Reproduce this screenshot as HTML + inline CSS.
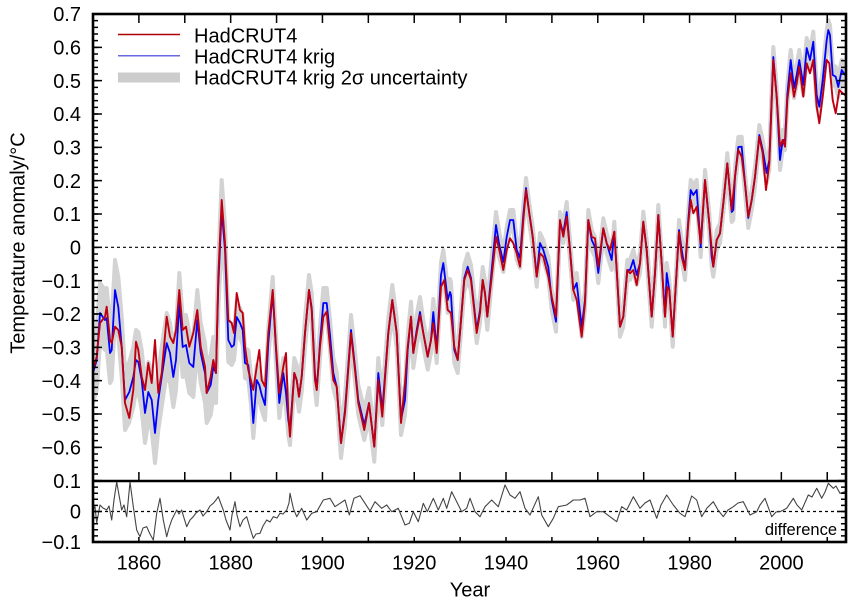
<!DOCTYPE html>
<html><head><meta charset="utf-8"><style>
html,body{margin:0;padding:0;background:#fff;}
svg{display:block;font-family:"Liberation Sans",Arial,sans-serif;}
</style></head><body>
<svg width="855" height="601" viewBox="0 0 855 601" xmlns="http://www.w3.org/2000/svg">
<rect width="855" height="601" fill="#fff"/>
<defs><clipPath id="cp"><rect x="93" y="14" width="753" height="467"/></clipPath></defs>
<g clip-path="url(#cp)" fill="none" stroke-linejoin="round" stroke-linecap="round">
<!-- uncertainty band -->
<polygon fill="#d3d3d3" stroke="#d3d3d3" stroke-width="4" points="91,343 93,343 96.7,330 100,283 105,290 106.7,288 110,323 111.7,320 115,260 118.3,277 121.7,316.7 125,370 129.3,362 133.3,347 136,330 138.3,332 141.7,350 145,383 148.3,362 151.7,370 155,403 158.3,370 161.7,347 166.7,313 170,323 173.3,347 176,330 179.3,273 182.7,317 186,315 189.3,333 193.3,337 197.3,290 200.7,323 205,343 206.7,363 210.7,355 213.3,337 216,343 218.3,260 221.7,180 225,225 228.3,318 231.7,329 234,330 236.7,302 240,308 242.7,315 245,348 248.3,350 251,375 253.3,408 256.7,365 259.3,370 261.7,380 265,390 268.3,328 272.7,277 276,335 279.3,388 283.3,358 286,378 288.3,405 290,415 294.3,358 296.7,365 299,381.7 301.7,361.7 305,318 309,275 311.7,293 315,360 316.7,375 320,328 323.3,288 326.7,288 330,320 333.3,358 336.7,371.7 341,428 345,395 351,315 355,352 358.3,385 364.3,410 369,388 374.3,431.7 378.3,358 382.3,395 388.3,318 392.3,285 396.7,318 401,405 405,385 407.7,335 411,301.7 413.3,338 416.7,315 420,297 423.3,320 427.7,343.7 431,327 433.3,299 436.7,337 441,262 443.3,250 447.7,287 450,279 451,282 454.3,337 457.7,347 461,307 464.3,265 467.7,253.7 471,265 476.7,317 480,297 482.7,267 485,280.3 487.3,303.7 491.7,257 496,212 499.3,232 503.3,252 506.7,227 510,210 513.3,210 516.7,240 520,248 523.3,205 526,178 529.3,203.3 532.7,226.7 536.7,266.7 540,233 543.3,240 548.3,257 551.7,290 556,311.7 560,212 563.3,223 566.7,202 570,240 573.3,280 576.7,273 581.7,317 585,290 588.3,210 591.7,230 595,237 598.3,263 603.3,218.3 606.7,233.3 611.7,250 614.3,221.7 616.7,260 620,316.7 623.3,306.7 627.3,260 630,260 633.3,250 636.7,265 640,253.3 643.3,211.7 646.7,240 651.7,306.7 655,263.3 658.3,205 661.7,253.3 665,306.7 666.7,263 669.3,280 672.7,326.7 676.7,260 679,220 681.7,240 685,260 688.3,210 690.7,180 693.3,185 696.7,180 700.7,237 705,170 709.3,213.3 711.7,247 713.3,256.7 716.7,230 720,223.3 723.3,193.3 727.3,153.3 731.7,202 733.3,200 735,166.7 738.3,137 741.7,136.7 745,173.3 748.3,208 751.7,190 755,166.7 759.3,125 762.7,140 766.7,163 769.3,150 773.3,47 776.7,86.7 780,150 782.7,130 785,130 787.3,85 790.7,50 794,78 796.7,65 799.3,50 803.3,75 806.7,38 810,50 813.3,31.7 816.7,85 819.3,96.7 822.7,70 826.7,30 828.3,20 830,25 832.7,65 835.7,66.7 838.3,77 841.7,60 845,65 847,65 847,85 845,85 841.7,80 838.3,97 835.7,86.7 832.7,85 830,45 828.3,40 826.7,50 822.7,90 819.3,116.7 816.7,105 813.3,51.7 810,70 806.7,58 803.3,95 799.3,70 796.7,85 794,98 790.7,70 787.3,105 785,150 782.7,150 780,170 776.7,106.7 773.3,67 769.3,170 766.7,183 762.7,160 759.3,145 755,186.7 751.7,210 748.3,228 745,193.3 741.7,156.7 738.3,157 735,186.7 733.3,220 731.7,222 727.3,173.3 723.3,213.3 720,243.3 716.7,250 713.3,276.7 711.7,267 709.3,233.3 705,190 700.7,257 696.7,200 693.3,205 690.7,200 688.3,230 685,280 681.7,260 679,240 676.7,280 672.7,346.7 669.3,300 666.7,283 665,326.7 661.7,273.3 658.3,225 655,283.3 651.7,326.7 646.7,260 643.3,231.7 640,273.3 636.7,285 633.3,270 630,280 627.3,280 623.3,326.7 620,336.7 616.7,280 614.3,241.7 611.7,270 606.7,253.3 603.3,238.3 598.3,283 595,257 591.7,250 588.3,230 585,310 581.7,337 576.7,293 573.3,300 570,260 566.7,222 563.3,243 560,232 556,331.7 551.7,310 548.3,277 543.3,260 540,253 536.7,286.7 532.7,246.7 529.3,223.3 526,198 523.3,225 520,268 516.7,260 513.3,230 510,230 506.7,247 503.3,272 499.3,258 496,238 491.7,283 487.3,329.7 485,306.3 482.7,293 480,323 476.7,343 471,291 467.7,279.7 464.3,291 461,333 457.7,373 454.3,363 451,308 450,305 447.7,313 443.3,276 441,288 436.7,363 433.3,325 431,353 427.7,369.7 423.3,346 420,327 416.7,345 413.3,368 411,331.7 407.7,365 405,415 401,435 396.7,348 392.3,315 388.3,348 382.3,425 378.3,388 374.3,461.7 369,418 364.3,440 358.3,415 355,382 351,345 345,425 341,458 336.7,401.7 333.3,388 330,350 326.7,318 323.3,318 320,358 316.7,405 315,390 311.7,323 309,305 305,348 301.7,391.7 299,411.7 296.7,395 294.3,388 290,445 288.3,435 286,408 283.3,388 279.3,418 276,365 272.7,307 268.3,358 265,420 261.7,410 259.3,400 256.7,395 253.3,438 251,405 248.3,380 245,378 242.7,345 240,338 236.7,332 234,360 231.7,365 228.3,362 225,275 221.7,240 218.3,310 216,403 213.3,397 210.7,415 206.7,423 205,403 200.7,383 197.3,350 193.3,397 189.3,393 186,375 182.7,377 179.3,333 176,390 173.3,407 170,383 166.7,373 161.7,407 158.3,430 155,463 151.7,430 148.3,422 145,443 141.7,410 138.3,392 136,390 133.3,407 129.3,422 125,430 121.7,376.7 118.3,337 115,320 111.7,380 110,383 106.7,348 105,350 100,343 96.7,390 93,403 91,403"/>
<!-- zero line -->
<line x1="93" y1="247.3" x2="846" y2="247.3" stroke="#000" stroke-width="1.2" stroke-dasharray="3 3" stroke-linecap="butt"/>
<!-- krig (blue) -->
<polyline stroke="#0000ff" stroke-width="1.8" points="93,373 96.7,360 100,313 105,320 106.7,318 110,353 111.7,350 115,290 118.3,307 121.7,346.7 125,400 129.3,392 133.3,377 136,360 138.3,362 141.7,380 145,413 148.3,392 151.7,400 155,433 158.3,400 161.7,377 166.7,343 170,353 173.3,377 176,360 179.3,303 182.7,347 186,345 189.3,363 193.3,367 197.3,320 200.7,353 205,373 206.7,393 210.7,385 213.3,367 216,373 218.3,285 221.7,210 225,250 228.3,340 231.7,347 234,345 236.7,317 240,323 242.7,330 245,363 248.3,365 251,390 253.3,423 256.7,380 259.3,385 261.7,395 265,405 268.3,343 272.7,292 276,350 279.3,403 283.3,373 286,393 288.3,420 290,430 294.3,373 296.7,380 299,396.7 301.7,376.7 305,333 309,290 311.7,308 315,375 316.7,390 320,343 323.3,303 326.7,303 330,335 333.3,373 336.7,386.7 341,443 345,410 351,330 355,367 358.3,400 364.3,425 369,403 374.3,446.7 378.3,373 382.3,410 388.3,333 392.3,300 396.7,333 401,420 405,400 407.7,350 411,316.7 413.3,353 416.7,330 420,312 423.3,333 427.7,356.7 431,340 433.3,312 436.7,350 441,275 443.3,263 447.7,300 450,292 451,295 454.3,350 457.7,360 461,320 464.3,278 467.7,266.7 471,278 476.7,330 480,310 482.7,280 485,293.3 487.3,316.7 491.7,270 496,225 499.3,245 503.3,262 506.7,237 510,220 513.3,220 516.7,250 520,258 523.3,215 526,188 529.3,213.3 532.7,236.7 536.7,276.7 540,243 543.3,250 548.3,267 551.7,300 556,321.7 560,222 563.3,233 566.7,212 570,250 573.3,290 576.7,283 581.7,327 585,300 588.3,220 591.7,240 595,247 598.3,273 603.3,228.3 606.7,243.3 611.7,260 614.3,231.7 616.7,270 620,326.7 623.3,316.7 627.3,270 630,270 633.3,260 636.7,275 640,263.3 643.3,221.7 646.7,250 651.7,316.7 655,273.3 658.3,215 661.7,263.3 665,316.7 666.7,273 669.3,290 672.7,336.7 676.7,270 679,230 681.7,250 685,270 688.3,220 690.7,190 693.3,195 696.7,190 700.7,247 705,180 709.3,223.3 711.7,257 713.3,266.7 716.7,240 720,233.3 723.3,203.3 727.3,163.3 731.7,212 733.3,210 735,176.7 738.3,147 741.7,146.7 745,183.3 748.3,218 751.7,200 755,176.7 759.3,135 762.7,150 766.7,173 769.3,160 773.3,57 776.7,96.7 780,160 782.7,140 785,140 787.3,95 790.7,60 794,88 796.7,75 799.3,60 803.3,85 806.7,48 810,60 813.3,41.7 816.7,95 819.3,106.7 822.7,80 826.7,40 828.3,30 830,35 832.7,75 835.7,76.7 838.3,87 841.7,70 845,75"/>
<!-- HadCRUT4 (red) -->
<polyline stroke="#c00010" stroke-width="1.9" points="93,370 96.7,356.7 100,323 105,316.7 106.7,306.7 110,340 111.7,343 115,326.7 118.3,330 121.7,346.7 125,403 129.3,418 133.3,390 136,341.7 138.3,350 141.7,376.7 145,390 148.3,363 151.7,383 155,340 158.3,393 161.7,373 166.7,316.7 170,336.7 173.3,343 176,330 179.3,290 182.7,330 186,326.7 189.3,346.7 193.3,333 197.3,310 200.7,346.7 205,366.7 206.7,393 210.7,376.7 213.3,360 216,373 218.3,276.7 221.7,200 225,243 228.3,320 231.7,323 234,333 236.7,293 240,310 242.7,313 245,346.7 248.3,370 253.3,390 256.7,366.7 259.3,350 261.7,380 265,386.7 268.3,333 272.7,290 276,346.7 279.3,393 283.3,366.7 286,353 288.3,413 290,436.7 294.3,373 296.7,380 299,396.7 301.7,376.7 305,333 309,290 311.7,310 315,380 316.7,390 320,346.7 323.3,316.7 326.7,311.7 330,346.7 333.3,380 336.7,386.7 341,443 345,413 351,333 355,370 358.3,403 364.3,430 369,403 374.3,446.7 378.3,380 382.3,416.7 388.3,333 392.3,300 396.7,333 401,423 405,383 407.7,346.7 411,316.7 413.3,353 416.7,333 420,315 423.3,333 427.7,356.7 431,340 433.3,323 436.7,353 441,286.7 444.3,280 447.7,310 451,313 454.3,346.7 457.7,360 461,320 464.3,280 467.7,270 471,280 476.7,333 480,313 482.7,280 485,293.3 487.3,316.7 491.7,276.7 496,236.7 499.3,250 503.3,270 506.7,250 510,238.3 513.3,243.3 516.7,253.3 520,266.7 523.3,220 526,190 529.3,213.3 532.7,236.7 536.7,276.7 540,253.3 543.3,256.7 548.3,276.7 551.7,296.7 556,316.7 560,220 563.3,236.7 566.7,216.7 570,250 573.3,290 576.7,300 581.7,336.7 585,303.3 588.3,220 591.7,236.7 595,238.3 598.3,266.7 603.3,228.3 606.7,243.3 610,250 614.3,231.7 616.7,270 620,326.7 623.3,316.7 627.3,270 630,273.3 633.3,270 636.7,285 640,263.3 643.3,221.7 646.7,250 651.7,316.7 655,273.3 658.3,215 661.7,263.3 665,316.7 667.3,286.7 669.3,290 672.7,336.7 676.7,270 679,232 681.7,256.7 685,270 688.3,223.3 690.7,200 693.3,213.3 696.7,206.7 700.7,243.3 705,180 709.3,223.3 713.3,266.7 716.7,240 720,233.3 723.3,203.3 727.3,163.3 731.7,210 735,176.7 738.3,150 741.7,156.7 745,183.3 748.3,216.7 751.7,200 755,176.7 759.3,136.7 762.7,153.3 766,190 769.3,163.3 773.3,60 776.7,96.7 780,146.7 782.7,140 785,146.7 787.3,100 790.7,73.3 794,96.7 796.7,83.3 799.3,66.7 803.3,96.7 806.7,63.3 810,73.3 813.3,60 816.7,106.7 819.3,123.3 822.7,96.7 826.7,60 829.3,63.3 832.7,100 835.7,113.3 839.3,90 842.7,93.3 845,95"/>
</g>
<!-- difference panel -->
<line x1="93" y1="511.5" x2="846" y2="511.5" stroke="#000" stroke-width="1.2" stroke-dasharray="3 3"/>
<polyline fill="none" stroke="#444" stroke-width="1.1" stroke-linejoin="round" points="93,510 95,506.7 96.7,523 100,505 103,508 106.7,510 109,506 111.7,520 114,500 116.7,482 119,495 121.7,510 124,505 126.7,516.7 130,482 133.3,506.7 136.7,530 140,536.7 143,528 146.7,526.7 150,534 153.3,540 156.7,513.3 160,498.3 163.3,520 166.7,536.7 169,528 171.7,520 176.7,510 179,514 181.7,510 184,518 186.7,526.7 190,520 193.3,516.7 196,513 200,510 203,516 206.7,511.7 210,506 213.3,503.3 216,500 218.3,496.7 221,504 223.3,510 226,520 230,530 232,515 235,501.7 237,515 240,526.7 243,520 246.7,516.7 250,528 253.3,538.3 256,534 260,533.3 263,526 266.7,520 270,522 273.3,516.7 277,518 280,513.3 283,514 286.7,510 289,503 290,493.3 293.3,508.3 296.7,516.7 301.7,508.3 306.7,520 311.7,513.3 316.7,511.7 323.3,500 330,498.3 335,506.7 340,503.3 345,500 349.3,515 354,498.3 360,495.7 365,503.3 370,511 375,501.7 381.7,508.3 386.7,505 391.7,511.7 398.3,508.3 405,525 409.3,523.3 413.3,511.7 418.3,521.7 423.3,503.3 427.3,511.7 433.3,498.3 438.3,510 443.3,498.3 446.7,508.3 451.7,491.7 456.7,501.7 461.7,511.7 466.7,508.3 470,498.3 475,511.7 480,516.7 485,506.7 491.7,500 498.3,506.7 505,485 510,495 515,498.3 520,491.7 525,508.3 530,515 538.3,496.7 541.7,515 548.3,526.7 553.3,518.3 558.3,506.7 566.7,505 573.3,500 580,500 585,498.3 590,516.7 596.7,511.7 603.3,511.7 610,516.7 616.7,521.7 621.7,506.7 626.7,510 633.3,496.7 640,508.3 645,503 650,500 656.7,518.3 661,505 666.7,495 673.3,505 680,513.3 685,516.7 691.7,496 696.7,500 701.7,516.7 707,508 713.3,501.7 718,510 723.3,516.7 728,510 733.3,506.7 738,503 743.3,501.7 750,515 756.7,511.7 760,505 765,498.3 771.7,516.7 776,512 780,511.7 786.7,508.3 793.3,498.3 797,505 801.7,510 808.3,495 812,497 816.7,488.3 821.7,498.3 825,492 828.3,483.3 833.3,488.3 836,486 840,493.3 845,491.7"/>
<text x="837" y="535" font-size="16.5" text-anchor="end" fill="#000">difference</text>
<!-- ticks -->
<g stroke="#000" stroke-width="1.5" fill="none">
<line x1="95.5" y1="13.25" x2="95.5" y2="482" stroke-width="5" stroke-dasharray="1.5 5.1667"/>
<line x1="97.5" y1="13.25" x2="97.5" y2="482" stroke-width="9" stroke-dasharray="1.5 31.8333"/>
<line x1="843.5" y1="13.25" x2="843.5" y2="482" stroke-width="5" stroke-dasharray="1.5 5.1667"/>
<line x1="841.5" y1="13.25" x2="841.5" y2="482" stroke-width="9" stroke-dasharray="1.5 31.8333"/>
<line x1="95.5" y1="480.25" x2="95.5" y2="543" stroke-width="5" stroke-dasharray="1.5 4.6"/>
<line x1="97.5" y1="480.25" x2="97.5" y2="543" stroke-width="9" stroke-dasharray="1.5 29"/>
<line x1="843.5" y1="480.25" x2="843.5" y2="543" stroke-width="5" stroke-dasharray="1.5 4.6"/>
<line x1="841.5" y1="480.25" x2="841.5" y2="543" stroke-width="9" stroke-dasharray="1.5 29"/>
<line x1="92.25" y1="18.5" x2="846" y2="18.5" stroke-width="9" stroke-dasharray="1.5 44.39"/>
<line x1="92.25" y1="476.5" x2="846" y2="476.5" stroke-width="9" stroke-dasharray="1.5 44.39"/>
<line x1="92.25" y1="539.5" x2="846" y2="539.5" stroke-width="5" stroke-dasharray="1.5 44.39"/>
</g>
<!-- frame -->
<rect x="93" y="14" width="753" height="528" fill="none" stroke="#000" stroke-width="2.6"/>
<line x1="93" y1="481" x2="846" y2="481" stroke="#000" stroke-width="2.6"/>
<!-- y labels -->
<g font-size="20" text-anchor="end" fill="#000">
<text x="81" y="21.2">0.7</text>
<text x="81" y="54.5">0.6</text>
<text x="81" y="87.9">0.5</text>
<text x="81" y="121.2">0.4</text>
<text x="81" y="154.5">0.3</text>
<text x="81" y="187.9">0.2</text>
<text x="81" y="221.2">0.1</text>
<text x="81" y="254.5">0</text>
<text x="81" y="287.9">−0.1</text>
<text x="81" y="321.2">−0.2</text>
<text x="81" y="354.5">−0.3</text>
<text x="81" y="387.9">−0.4</text>
<text x="81" y="421.2">−0.5</text>
<text x="81" y="454.5">−0.6</text>
<text x="81" y="488.2">0.1</text>
<text x="81" y="518.7">0</text>
<text x="81" y="549.2">−0.1</text>
</g>
<!-- x labels -->
<g font-size="20" text-anchor="middle" fill="#000">
<text x="138.9" y="569.5">1860</text>
<text x="230.7" y="569.5">1880</text>
<text x="322.5" y="569.5">1900</text>
<text x="414.2" y="569.5">1920</text>
<text x="506" y="569.5">1940</text>
<text x="597.8" y="569.5">1960</text>
<text x="689.6" y="569.5">1980</text>
<text x="781.4" y="569.5">2000</text>
<text x="470" y="596.5">Year</text>
<text transform="translate(24.5,243) rotate(-90)">Temperature anomaly/°C</text>
</g>
<!-- legend -->
<line x1="118" y1="34.5" x2="180" y2="34.5" stroke="#b00000" stroke-width="1.5"/>
<line x1="118" y1="55.7" x2="180" y2="55.7" stroke="#6a6ae0" stroke-width="1.5"/>
<rect x="118" y="72.5" width="62" height="10" fill="#cccccc"/>
<g font-size="20" fill="#000">
<text x="194" y="42.3">HadCRUT4</text>
<text x="194" y="63.3">HadCRUT4 krig</text>
<text x="194" y="84.5">HadCRUT4 krig 2σ uncertainty</text>
</g>
</svg>
</body></html>
